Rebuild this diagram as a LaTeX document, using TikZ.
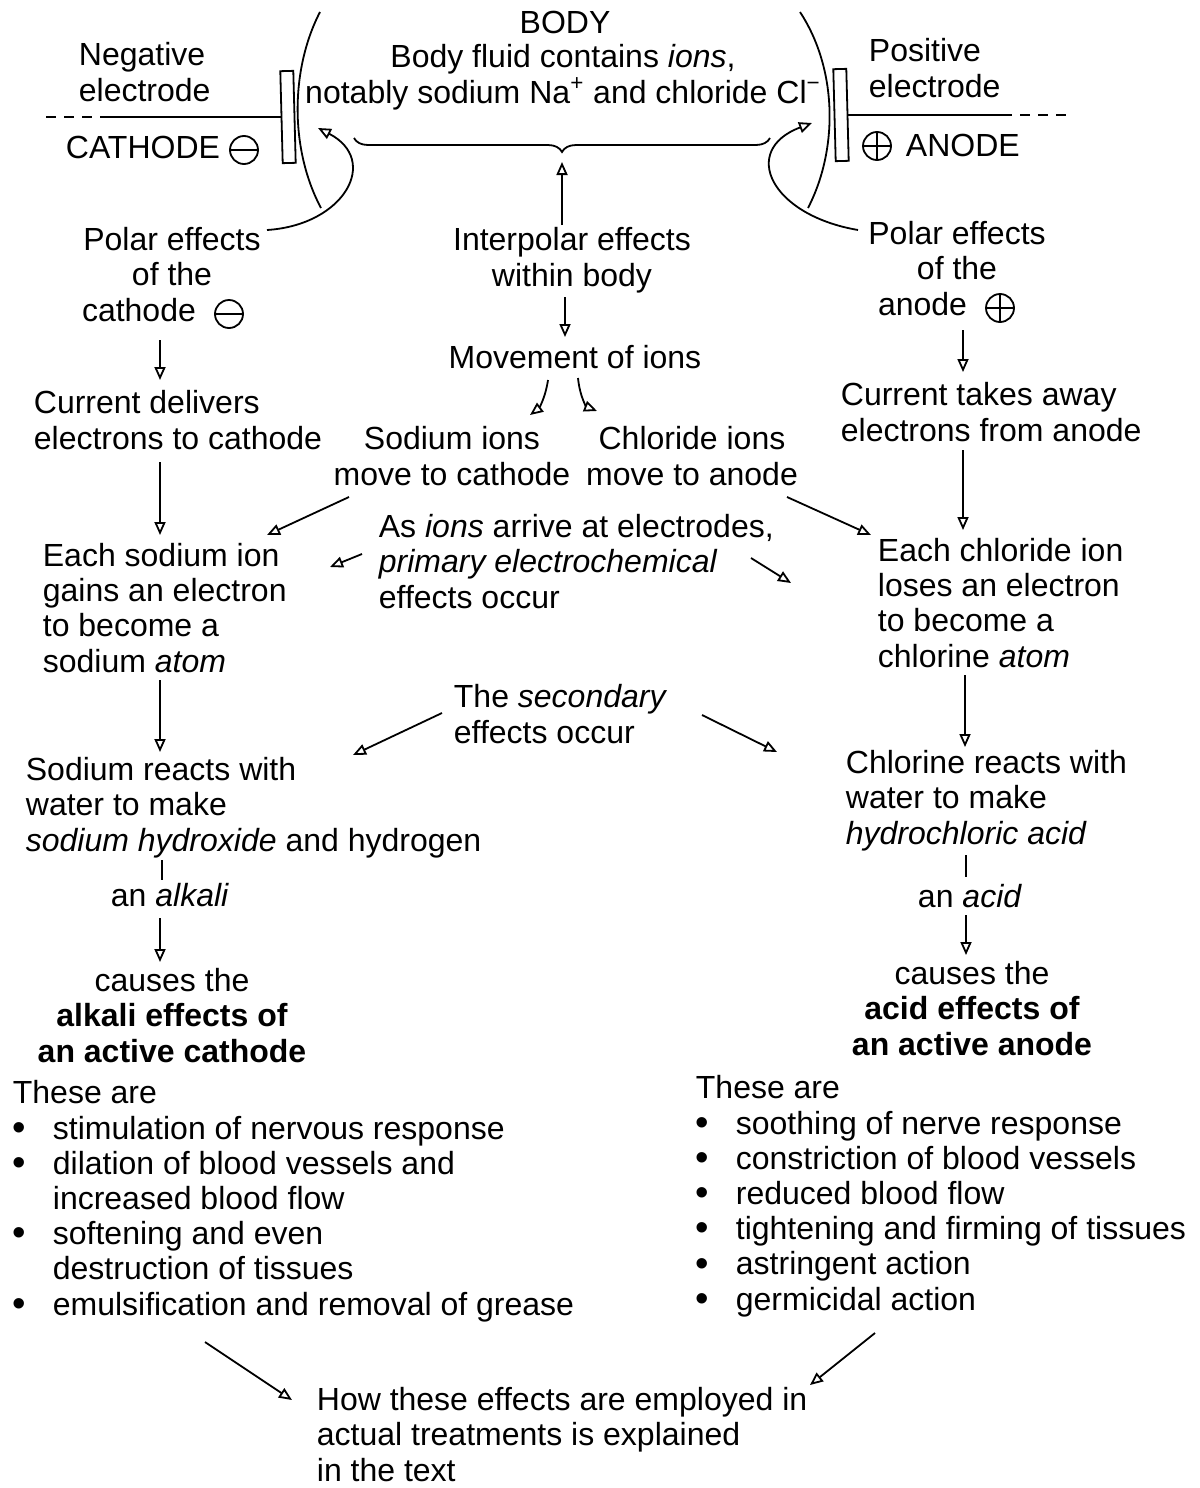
\documentclass[tikz,border=0pt]{standalone}
\usepackage{fontspec}
\setmainfont{Liberation Sans}
\usetikzlibrary{arrows.meta,decorations.pathreplacing}
\newcommand\blt{\makebox[20pt][l]{\smash{\raisebox{-.6pt}{\scalebox{1.2}{\textbullet}}}}}
\newcommand\ind{\hspace*{20pt}}

\begin{document}
\begin{tikzpicture}[x=.5pt, y=-.5pt, line width=.9pt,
  txt/.style={inner sep=0pt, font=\fontsize{16pt}{17.6pt}\selectfont},
  lt/.style={txt, align=left, anchor=base west},
  ct/.style={txt, align=center, anchor=base},
  arr/.style={-{Triangle[open,length=6.5pt,width=5.5pt]}},
  sgn/.style={circle, draw, minimum size=14pt, inner sep=0pt},
  plate/.style={draw, minimum width=6.5pt, minimum height=46pt, inner sep=0pt, rotate=1.5}
  ]
  \fill[white] (0,0) rectangle (1199,1488);
  \useasboundingbox (0,0) rectangle (1199,1488);

  % the body and the two electrodes
  \draw (320,12) .. controls (290,70) and (290,150) .. (321,208);
  \draw (800,12) .. controls (838,70) and (838,150) .. (808,208);
  \node[plate] (cplate) at (288,117) {};
  \node[plate] (aplate) at (841,115) {};
  \draw (cplate.west) -- ++(-181,0) coordinate (cl);
  \draw[dash pattern=on 5pt off 4pt] ([xshift=-4pt]cl) -- ++(-52,0);
  \draw (aplate.east) -- ++(164,0) coordinate (al);
  \draw[dash pattern=on 5pt off 4pt] ([xshift=4pt]al) -- ++(50,0);
  \node[sgn] (csign) at (244,150) {};
  \draw (csign.west) -- (csign.east);
  \node[sgn] (asign) at (877,146) {};
  \draw (asign.west) -- (asign.east) (asign.north) -- (asign.south);
  \draw[decorate, decoration={brace, amplitude=7pt}] (770,138) -- (354,138);
  \coordinate (btip) at (562,152);

  % nodes sit on the baseline of their last line
  \node[ct] (body) at (565,33) {BODY};
  \node[ct] (fluid) at (563,103) {Body fluid contains \textit{ions},\\notably sodium Na\textsuperscript{+} and chloride Cl\textsuperscript{−}};
  \node[lt] (neg) at (78,101) {Negative\\electrode};
  \node[lt] (cathode) at (65,158) {CATHODE};
  \node[lt] (pos) at (868,97) {Positive\\electrode};
  \node[lt] (anode) at (905,156) {ANODE};

  % polar and interpolar effects
  \node[ct] (polarc) at (172,321) {Polar effects\\of the\\\makebox[90pt][l]{cathode}};
  \node[sgn] (csign2) at (229,314) {};
  \draw (csign2.west) -- (csign2.east);
  \node[ct] (intpol) at (572,286) {Interpolar effects\\within body};
  \node[ct] (polara) at (957,315) {Polar effects\\of the\\\makebox[79pt][l]{anode}};
  \node[sgn] (asign2) at (1000,308) {};
  \draw (asign2.west) -- (asign2.east) (asign2.north) -- (asign2.south);

  \node[ct] (movion) at (575,368) {Movement of ions};
  \node[lt] (curdel) at (33,449) {Current delivers\\electrons to cathode};
  \node[lt] (curtak) at (840,441) {Current takes away\\electrons from anode};
  \node[ct] (naions) at (452,485) {Sodium ions\\move to cathode};
  \node[ct] (clions) at (692,485) {Chloride ions\\move to anode};
  \node[lt] (arrive) at (378,608) {As \textit{ions} arrive at electrodes,\\\textit{primary electrochemical}\\effects occur};
  \node[lt] (naatom) at (42,672) {Each sodium ion\\gains an electron\\to become a\\sodium \textit{atom}};
  \node[lt] (clatom) at (877,667) {Each chloride ion\\loses an electron\\to become a\\chlorine \textit{atom}};
  \node[lt] (second) at (453,743) {The \textit{secondary}\\effects occur};
  \node[lt] (nareact) at (25,851) {Sodium reacts with\\water to make\\\textit{sodium hydroxide} and hydrogen};
  \node[lt] (clreact) at (845,844) {Chlorine reacts with\\water to make\\\textit{hydrochloric acid}};
  \node[ct] (alkali) at (170,906) {an \textit{alkali}};
  \node[ct] (acid) at (970,907) {an \textit{acid}};
  \node[ct] (alkeff) at (172,1062) {causes the\\\textbf{alkali effects of}\\\textbf{an active cathode}};
  \node[ct] (acideff) at (972,1055) {causes the\\\textbf{acid effects of}\\\textbf{an active anode}};

  \node[lt] (nalist) at (12,1315) {These are\\
    \blt stimulation of nervous response\\
    \blt dilation of blood vessels and\\
    \ind increased blood flow\\
    \blt softening and even\\
    \ind destruction of tissues\\
    \blt emulsification and removal of grease};
  \node[lt] (cllist) at (695,1310) {These are\\
    \blt soothing of nerve response\\
    \blt constriction of blood vessels\\
    \blt reduced blood flow\\
    \blt tightening and firming of tissues\\
    \blt astringent action\\
    \blt germicidal action};
  \node[lt] (how) at (316,1481) {How these effects are employed in\\actual treatments is explained\\in the text};

  % connectors
  \draw[arr] ([shift={(95,-91)}]polarc.base) .. controls +(78,-5) and +(62,32) .. ([shift={(30,11)}]cplate.center);
  \draw[arr] ([shift={(-99,-85)}]polara.base) .. controls +(-88,-15) and +(-72,27) .. ([shift={(-29,8)}]aplate.center);
  \draw[arr] ([shift={(-10,-61)}]intpol.base) -- ([shift={(0,10)}]btip);
  \draw[arr] ([shift={(-7,11)}]intpol.base) -- ([shift={(-10,-31)}]movion.base);
  \draw[arr] ([shift={(-27,12)}]movion.base) .. controls +(-3,20) and +(8,-6) .. ([shift={(78,-70)}]naions.base);
  \draw[arr] ([shift={(3,10)}]movion.base) .. controls +(2,20) and +(-10,-4) .. ([shift={(-95,-74)}]clions.base);

  \draw[arr] ([shift={(-12,19)}]polarc.base) -- ([shift={(127,-69)}]curdel.base west);
  \draw[arr] ([shift={(127,13)}]curdel.base west) -- ([shift={(118,-137)}]naatom.base west);
  \draw[arr] ([shift={(118,8)}]naatom.base west) -- ([shift={(135,-99)}]nareact.base west);
  \draw ([shift={(137,9)}]nareact.base west) -- ([shift={(-8,-26)}]alkali.base);
  \draw[arr] ([shift={(-10,12)}]alkali.base) -- ([shift={(-12,-100)}]alkeff.base);

  \draw[arr] ([shift={(6,15)}]polara.base) -- ([shift={(123,-69)}]curtak.base west);
  \draw[arr] ([shift={(123,9)}]curtak.base west) -- ([shift={(86,-137)}]clatom.base west);
  \draw[arr] ([shift={(88,8)}]clatom.base west) -- ([shift={(120,-97)}]clreact.base west);
  \draw ([shift={(121,11)}]clreact.base west) -- ([shift={(-4,-30)}]acid.base);
  \draw[arr] ([shift={(-4,8)}]acid.base) -- ([shift={(-6,-100)}]acideff.base);

  \draw[arr] ([shift={(-103,12)}]naions.base) -- ([shift={(225,-137)}]naatom.base west);
  \draw[arr] ([shift={(95,12)}]clions.base) -- ([shift={(-6,-132)}]clatom.base west);
  \draw[arr] ([shift={(-16,-54)}]arrive.base west) -- ([shift={(288,-105)}]naatom.base west);
  \draw[arr] ([shift={(373,-50)}]arrive.base west) -- ([shift={(-86,-84)}]clatom.base west);
  \draw[arr] ([shift={(-11,-30)}]second.base west) -- ([shift={(328,-96)}]nareact.base west);
  \draw[arr] ([shift={(249,-28)}]second.base west) -- ([shift={(-68,-92)}]clreact.base west);

  \draw[arr] ([shift={(193,27)}]nalist.base west) -- ([shift={(-24,-81)}]how.base west);
  \draw[arr] ([shift={(180,23)}]cllist.base west) -- ([shift={(494,-96)}]how.base west);
\end{tikzpicture}
\end{document}
